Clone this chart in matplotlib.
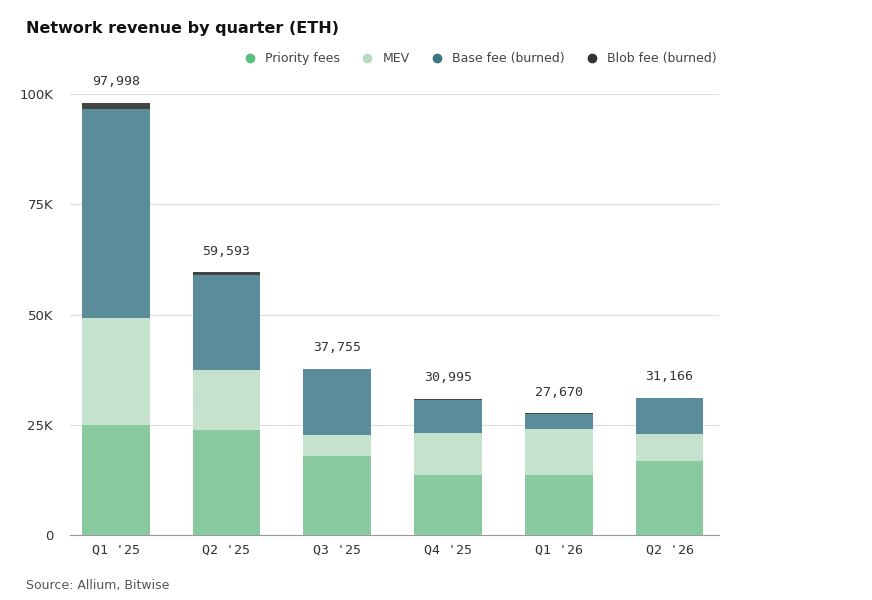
import matplotlib
matplotlib.use("Agg")
import matplotlib.pyplot as plt
from matplotlib.lines import Line2D

quarters = ["Q1 '25", "Q2 '25", "Q3 '25", "Q4 '25", "Q1 '26", "Q2 '26"]
priority = [24900, 23800, 17900, 13600, 13600, 16800]
mev = [24300, 13600, 4800, 9500, 10400, 6100]
base = [47400, 21600, 14955, 7495, 3400, 8196]
blob = [1398, 593, 100, 400, 270, 70]
totals = [97998, 59593, 37755, 30995, 27670, 31166]

colors = ["#88c9a0", "#c5e3cc", "#5a8d99", "#444444"]
legend_colors = ["#5cbf7f", "#b5dcc0", "#3f7482", "#333333"]
names = ["Priority fees", "MEV", "Base fee (burned)", "Blob fee (burned)"]

fig = plt.figure(figsize=(8.72, 6.0), dpi=100)
ax = fig.add_axes([0.08, 0.108, 0.745, 0.735])
x = list(range(len(quarters)))
bottom = [0]*6
for vals, c in zip([priority, mev, base, blob], colors):
    ax.bar(x, vals, bottom=bottom, width=0.61, color=c, zorder=3)
    bottom = [b+v for b, v in zip(bottom, vals)]
for i, t in enumerate(totals):
    ax.text(i, t + 3300, f"{t:,}", ha="center", va="bottom", family="DejaVu Sans Mono", fontsize=9.5, color="#333")

ax.set_ylim(0, 100000)
ax.set_xlim(-0.415, 5.45)
ax.set_yticks([0, 25000, 50000, 75000, 100000])
ax.set_yticklabels(["0", "25K", "50K", "75K", "100K"], fontsize=9.5, color="#333")
ax.set_xticks(x)
ax.set_xticklabels(quarters, family="DejaVu Sans Mono", fontsize=9.5, color="#333")
ax.grid(axis="y", color="#dddddd", lw=0.8, zorder=0)
for s in ["top", "right", "left"]:
    ax.spines[s].set_visible(False)
ax.spines["bottom"].set_color("#999")
ax.tick_params(axis="y", length=0, pad=12)
ax.tick_params(axis="x", length=0, pad=6)

handles = [Line2D([], [], marker="o", ls="", color=c, markersize=6) for c in legend_colors]
fig.legend(handles, names, loc="upper right", bbox_to_anchor=(0.835, 0.932), ncol=4,
           frameon=False, fontsize=9, handletextpad=0.2, columnspacing=1.2, labelcolor="#444")

fig.text(0.03, 0.945, "Network revenue by quarter (ETH)", fontsize=11.5, fontweight="semibold", color="#111")
fig.text(0.03, 0.018, "Source: Allium, Bitwise", fontsize=9, color="#555")
fig.savefig("out.png", dpi=100, facecolor="white")
